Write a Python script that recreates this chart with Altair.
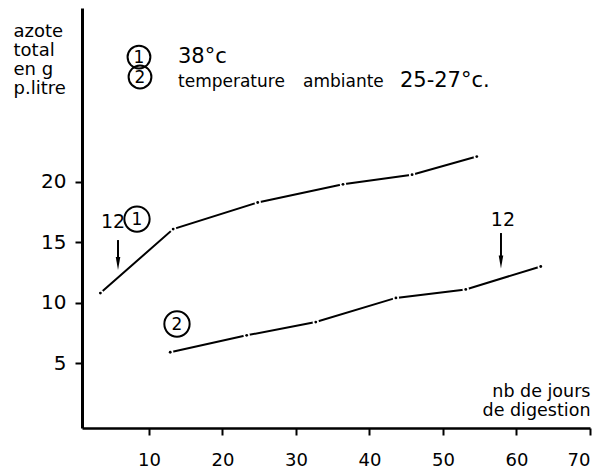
import altair as alt
import pandas as pd

# ---- data ----
s1_days = [3.4, 13.3, 24.8, 36.4, 45.8, 54.6]
s1_azote = [10.8, 16.1, 18.3, 19.8, 20.6, 22.1]
s2_days = [12.9, 23.3, 32.7, 43.6, 53.1, 63.3]
s2_azote = [5.9, 7.3, 8.4, 10.4, 11.1, 13.0]

x_ticks = [10, 20, 30, 40, 50, 60, 70]
y_ticks = [5, 10, 15, 20]

y_title = ["azote", "total", "en g", "p.litre"]
x_title = ["nb de jours", "de digestion"]

series = pd.DataFrame({
    "jours": s1_days + s2_days,
    "azote": s1_azote + s2_azote,
    "serie": ["1"] * len(s1_days) + ["2"] * len(s2_days),
})

FONT = "DejaVu Sans"

xs = alt.Scale(domain=[0.9, 70], nice=False, zero=False)
ys = alt.Scale(domain=[-0.37, 34.4], nice=False, zero=False)

X = alt.X("jours:Q", scale=xs, axis=alt.Axis(
    values=x_ticks, grid=False, domainColor="black", domainWidth=2.5,
    tickColor="black", tickWidth=2, tickSize=7, labelPadding=16,
    labelFont=FONT, labelFontSize=18, labelColor="black",
    title=x_title, titleFont=FONT, titleFontSize=17.5, titleFontWeight="normal",
    titleColor="black", titleX=508, titleY=-32, titleAlign="right",
    titleBaseline="alphabetic", titleLineHeight=19))
Y = alt.Y("azote:Q", scale=ys, axis=alt.Axis(
    values=y_ticks, grid=False, domainColor="black", domainWidth=3,
    tickColor="black", tickWidth=2, tickSize=7, labelPadding=9,
    labelFont=FONT, labelFontSize=20, labelColor="black",
    title=y_title, titleFont=FONT, titleFontSize=18, titleFontWeight="normal",
    titleColor="black", titleAngle=0, titleX=-69, titleY=28, titleAlign="left",
    titleBaseline="alphabetic", titleLineHeight=19))

base = alt.Chart(series)
lines = base.mark_line(color="black", strokeWidth=2).encode(x=X, y=Y, detail="serie:N")
gaps = base.mark_point(filled=True, color="white", opacity=1, size=40).encode(
    x="jours:Q", y="azote:Q")
dots = base.mark_point(filled=True, color="black", opacity=1, size=8).encode(
    x="jours:Q", y="azote:Q")

# ---- annotations (positions in data units) ----
leg_circ = pd.DataFrame({"x": [8.65, 8.79], "y": [30.34, 28.69], "t": ["1", "2"]})
plot_circ = pd.DataFrame({"x": [8.38, 13.82], "y": [16.93, 8.24], "t": ["1", "2"]})

def circles(df, size):
    c = alt.Chart(df).mark_point(shape="circle", filled=False, color="black",
                                 strokeWidth=2, size=size, opacity=1).encode(
        x="x:Q", y="y:Q")
    t = alt.Chart(df).mark_text(font=FONT, fontSize=17, color="black",
                                align="center", baseline="middle", dy=1).encode(
        x="x:Q", y="y:Q", text="t:N")
    return c + t

leg_text = pd.DataFrame({
    "x": [13.96, 13.96, 30.96, 44.15],
    "y": [29.85, 27.86, 27.86, 27.86],
    "t": ["38°c", "temperature", "ambiante", "25-27°c."],
    "fs": [21, 17, 17, 21],
})
legend_txt = alt.Chart(leg_text).mark_text(font=FONT, color="black", align="left",
                                           baseline="alphabetic").encode(
    x="x:Q", y="y:Q", text="t:N", size=alt.Size("fs:Q", scale=None, legend=None))

marks12 = pd.DataFrame({"x": [5.12, 58.16], "y": [16.68, 16.85], "t": ["12", "12"]})
txt12 = alt.Chart(marks12).mark_text(font=FONT, fontSize=19, color="black",
                                     align="center", baseline="middle").encode(
    x="x:Q", y="y:Q", text="t:N")

arrows = pd.DataFrame({"x": [5.80, 57.89], "y": [15.19, 15.77], "y2": [13.54, 13.87],
                       "yh": [13.25, 13.37]})
shafts = alt.Chart(arrows).mark_rule(color="black", strokeWidth=2).encode(
    x="x:Q", y="y:Q", y2="y2:Q")
heads = alt.Chart(arrows).mark_point(shape="M-0.35,-1L0.35,-1L0,1Z", filled=True,
                                     color="black", opacity=1, size=169).encode(
    x="x:Q", y="yh:Q")

chart = alt.layer(
    lines, gaps, dots,
    circles(leg_circ, 520), circles(plot_circ, 640),
    legend_txt, txt12, shafts, heads,
).properties(
    width=508, height=420,
    autosize=alt.AutoSizeParams(type="none"),
    padding={"left": 74, "top": 0, "right": 15, "bottom": 43},
    background="white",
).configure_view(stroke=None)

chart.save("out.html", embed_options={"renderer": "svg", "actions": False})
